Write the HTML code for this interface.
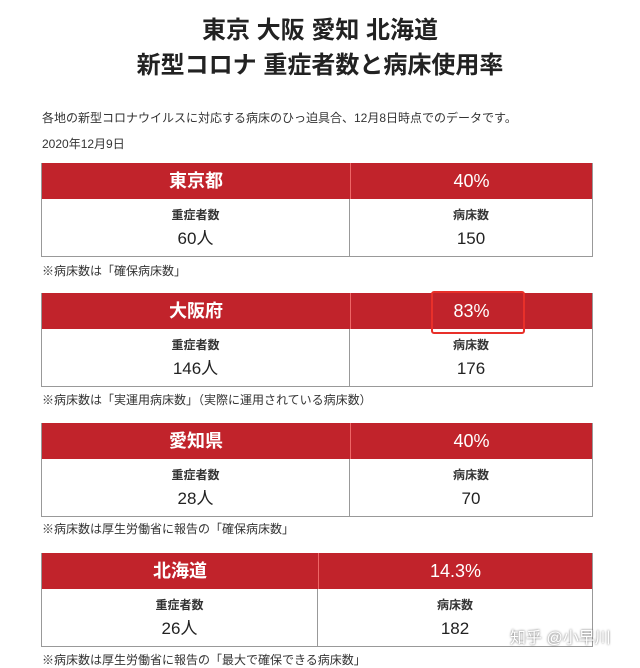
<!DOCTYPE html>
<html><head><meta charset="utf-8"><style>
body{margin:0;width:640px;height:667px;background:#fff;font-family:"Liberation Sans","Noto Sans CJK JP",sans-serif;color:#222;position:relative;overflow:hidden}
.t{position:absolute;left:0;width:640px;text-align:center;font-weight:bold;font-size:24px;color:#222}
.s{position:absolute;left:42px;font-size:12px;color:#333}
.tb{position:absolute;left:41px;width:550px;border:1px solid #999;border-top:none}
.h{height:36px;background:#c1232b;display:flex;color:#fff;font-size:18px}
.h div{text-align:center;line-height:36px}
.h div:first-child,.b div:first-child{width:308px}
.hk .h div:first-child,.hk .b div:first-child{width:276px}
.h div:last-child,.b div:last-child{flex:1}
.h div:first-child{border-right:1px solid #e66;font-weight:bold}
.b{display:flex;height:57px}
.b div{text-align:center;padding-top:8px;box-sizing:border-box}
.b div:first-child{border-right:1px solid #999}
.b small{display:block;font-size:12px;line-height:16px;font-weight:bold;color:#333}
.b span{display:block;font-size:17px;line-height:22px;height:22px;margin-top:5px;overflow:visible}
</style></head><body>
<div class="t" style="top:10px">東京 大阪 愛知 北海道</div>
<div class="t" style="top:45px">新型コロナ 重症者数と病床使用率</div>
<div class="s" style="top:109px">各地の新型コロナウイルスに対応する病床のひっ迫具合、12月8日時点でのデータです。</div>
<div class="s" style="top:135px">2020年12月9日</div>

<div class="tb" style="top:163px"><div class="h"><div>東京都</div><div>40%</div></div><div class="b"><div><small>重症者数</small><span>60人</span></div><div><small>病床数</small><span>150</span></div></div></div>
<div class="s" style="top:262px">※病床数は「確保病床数」</div>

<div class="tb" style="top:293px"><div class="h"><div>大阪府</div><div>83%</div></div><div class="b"><div><small>重症者数</small><span>146人</span></div><div><small>病床数</small><span>176</span></div></div></div>
<div style="position:absolute;left:431px;top:291px;width:90px;height:39px;border:2px solid #e8302a;border-radius:3px"></div>
<div class="s" style="top:391px">※病床数は「実運用病床数」（実際に運用されている病床数）</div>

<div class="tb" style="top:423px"><div class="h"><div>愛知県</div><div>40%</div></div><div class="b"><div><small>重症者数</small><span>28人</span></div><div><small>病床数</small><span>70</span></div></div></div>
<div class="s" style="top:520px">※病床数は厚生労働省に報告の「確保病床数」</div>

<div class="tb hk" style="top:553px"><div class="h"><div>北海道</div><div>14.3%</div></div><div class="b"><div><small>重症者数</small><span>26人</span></div><div><small>病床数</small><span>182</span></div></div></div>
<div class="s" style="top:651px">※病床数は厚生労働省に報告の「最大で確保できる病床数」</div>
<div style="position:absolute;left:510px;top:624px;font-size:16px;color:#fff;text-shadow:0 0 2px #555">知乎 @小早川</div>
</body></html>
